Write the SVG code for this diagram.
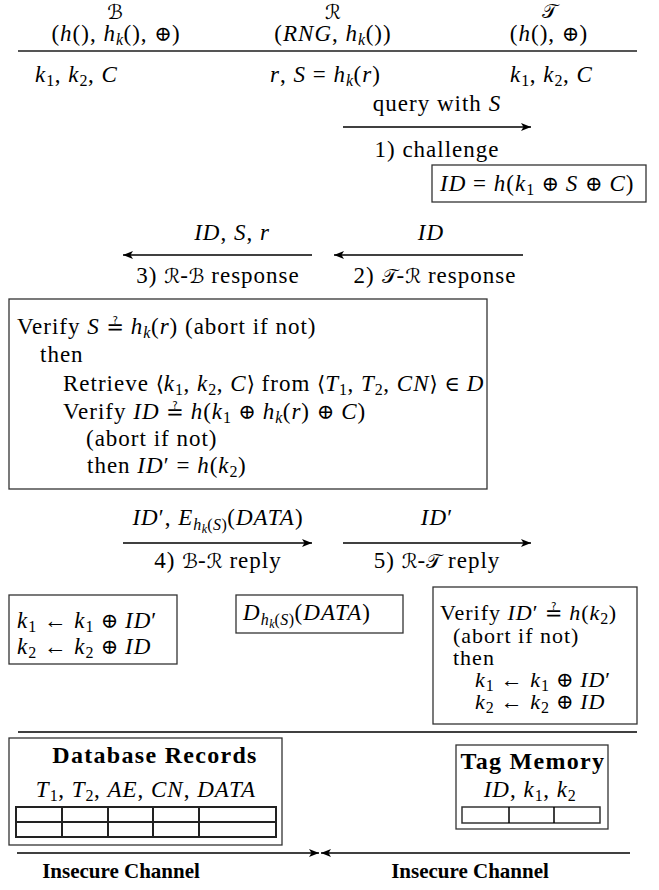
<svg xmlns="http://www.w3.org/2000/svg" width="659" height="890" viewBox="0 0 659 890">
<defs>
<style>
text{font-family:"Liberation Serif","DejaVu Serif",serif;font-size:23px;letter-spacing:1px;fill:#000}
.i{font-style:italic}
.s{font-size:16px;letter-spacing:0.5px}
.ss{font-size:12px;letter-spacing:0}
.m{font-family:"DejaVu Serif","DejaVu Sans",serif;font-size:21px;letter-spacing:0}
.cal{font-family:"DejaVu Sans","DejaVu Serif",serif;font-size:20px;font-style:normal;letter-spacing:0}
.b{font-weight:bold;font-size:21px;letter-spacing:0}
.h{font-weight:bold;font-size:24px;letter-spacing:1.3px}
.t{font-size:22px}
.box{fill:#fff;stroke:#333;stroke-width:1.3}
.ln{stroke:#000;stroke-width:1.3;fill:none}
.hl{stroke:#555;stroke-width:2;fill:none}
.tb{fill:none;stroke:#222;stroke-width:2}
</style>
<marker id="ah" viewBox="0 0 10 8" refX="10" refY="4" markerWidth="10" markerHeight="8" markerUnits="userSpaceOnUse" orient="auto"><path d="M0,0 L10,4 L0,8 L2.5,4 z" fill="#000"/></marker>
</defs>
<rect width="659" height="890" fill="#fff"/>

<g id="node-B">
<text x="115" y="19" text-anchor="middle" class="cal">ℬ</text>
<text x="116" y="41" text-anchor="middle">(<tspan class="i">h</tspan>(), <tspan class="i">h</tspan><tspan class="s i" dy="4">k</tspan><tspan dy="-4">(), </tspan><tspan class="m">⊕</tspan>)</text>
<text x="35" y="82"><tspan class="i">k</tspan><tspan class="s" dy="4">1</tspan><tspan dy="-4">, </tspan><tspan class="i">k</tspan><tspan class="s" dy="4">2</tspan><tspan dy="-4">, </tspan><tspan class="i">C</tspan></text>
</g>
<g id="node-R">
<text x="333" y="19" text-anchor="middle" class="cal">ℛ</text>
<text x="333" y="41" text-anchor="middle">(<tspan class="i">RNG</tspan>, <tspan class="i">h</tspan><tspan class="s i" dy="4">k</tspan><tspan dy="-4">())</tspan></text>
<text x="270" y="82"><tspan class="i">r</tspan>, <tspan class="i">S</tspan> = <tspan class="i">h</tspan><tspan class="s i" dy="4">k</tspan><tspan dy="-4">(</tspan><tspan class="i">r</tspan>)</text>
</g>
<g id="node-T">
<text x="549" y="18" text-anchor="middle" class="cal">𝒯</text>
<text x="549" y="41" text-anchor="middle">(<tspan class="i">h</tspan>(), <tspan class="m">⊕</tspan>)</text>
<text x="510" y="82"><tspan class="i">k</tspan><tspan class="s" dy="4">1</tspan><tspan dy="-4">, </tspan><tspan class="i">k</tspan><tspan class="s" dy="4">2</tspan><tspan dy="-4">, </tspan><tspan class="i">C</tspan></text>
</g>
<line class="hl" x1="18" y1="51" x2="637" y2="51"/>

<g id="connectors">
<line class="ln" x1="343" y1="127" x2="531" y2="127" marker-end="url(#ah)"/>
<line class="ln" x1="523" y1="255" x2="334" y2="255" marker-end="url(#ah)"/>
<line class="ln" x1="312" y1="255" x2="123" y2="255" marker-end="url(#ah)"/>
<line class="ln" x1="123" y1="543" x2="312" y2="543" marker-end="url(#ah)"/>
<line class="ln" x1="343" y1="543" x2="531" y2="543" marker-end="url(#ah)"/>
<line class="ln" x1="17" y1="853" x2="319" y2="853" marker-end="url(#ah)"/>
<line class="ln" x1="630" y1="853" x2="321" y2="853" marker-end="url(#ah)"/>
</g>

<g id="msg1">
<text x="437" y="111" text-anchor="middle">query with <tspan class="i">S</tspan></text>
<text x="437" y="157" text-anchor="middle">1) challenge</text>
</g>
<g id="box-tag-id">
<rect class="box" x="432" y="165" width="214" height="37"/>
<text x="440" y="191"><tspan class="i">ID</tspan> = <tspan class="i">h</tspan>(<tspan class="i">k</tspan><tspan class="s" dy="4">1</tspan><tspan dy="-4"> </tspan><tspan class="m">⊕</tspan> <tspan class="i">S</tspan> <tspan class="m">⊕</tspan> <tspan class="i">C</tspan>)</text>
</g>
<g id="msg2">
<text x="431" y="240" text-anchor="middle" class="i">ID</text>
<text x="435" y="283" text-anchor="middle">2) <tspan class="cal">𝒯</tspan>-<tspan class="cal">ℛ</tspan> response</text>
</g>
<g id="msg3">
<text x="232" y="240" text-anchor="middle"><tspan class="i">ID</tspan>, <tspan class="i">S</tspan>, <tspan class="i">r</tspan></text>
<text x="218" y="283" text-anchor="middle">3) <tspan class="cal">ℛ</tspan>-<tspan class="cal">ℬ</tspan> response</text>
</g>

<g id="box-backend-verify">
<rect class="box" x="9" y="299" width="478" height="190"/>
<text x="17" y="334">Verify <tspan class="i">S</tspan> <tspan class="m">≟</tspan> <tspan class="i">h</tspan><tspan class="s i" dy="4">k</tspan><tspan dy="-4">(</tspan><tspan class="i">r</tspan>) (abort if not)</text>
<text x="40" y="362">then</text>
<text x="63" y="391">Retrieve <tspan class="m">⟨</tspan><tspan class="i">k</tspan><tspan class="s" dy="4">1</tspan><tspan dy="-4">, </tspan><tspan class="i">k</tspan><tspan class="s" dy="4">2</tspan><tspan dy="-4">, </tspan><tspan class="i">C</tspan><tspan class="m">⟩</tspan> from <tspan class="m">⟨</tspan><tspan class="i">T</tspan><tspan class="s" dy="4">1</tspan><tspan dy="-4">, </tspan><tspan class="i">T</tspan><tspan class="s" dy="4">2</tspan><tspan dy="-4">, </tspan><tspan class="i">CN</tspan><tspan class="m">⟩</tspan> <tspan class="m">∈</tspan> <tspan class="i">D</tspan></text>
<text x="63" y="419">Verify <tspan class="i">ID</tspan> <tspan class="m">≟</tspan> <tspan class="i">h</tspan>(<tspan class="i">k</tspan><tspan class="s" dy="4">1</tspan><tspan dy="-4"> </tspan><tspan class="m">⊕</tspan> <tspan class="i">h</tspan><tspan class="s i" dy="4">k</tspan><tspan dy="-4">(</tspan><tspan class="i">r</tspan>) <tspan class="m">⊕</tspan> <tspan class="i">C</tspan>)</text>
<text x="86" y="446">(abort if not)</text>
<text x="87" y="473">then <tspan class="i">ID</tspan>′ = <tspan class="i">h</tspan>(<tspan class="i">k</tspan><tspan class="s" dy="4">2</tspan><tspan dy="-4">)</tspan></text>
</g>

<g id="msg4">
<text x="218" y="525" text-anchor="middle"><tspan class="i">ID</tspan>′, <tspan class="i">E</tspan><tspan class="s i" dy="5">h</tspan><tspan class="ss i" dy="3">k</tspan><tspan class="s" dy="-3">(</tspan><tspan class="s i">S</tspan><tspan class="s">)</tspan><tspan dy="-5">(</tspan><tspan class="i">DATA</tspan>)</text>
<text x="218" y="568" text-anchor="middle">4) <tspan class="cal">ℬ</tspan>-<tspan class="cal">ℛ</tspan> reply</text>
</g>
<g id="msg5">
<text x="437" y="525" text-anchor="middle"><tspan class="i">ID</tspan>′</text>
<text x="437" y="568" text-anchor="middle">5) <tspan class="cal">ℛ</tspan>-<tspan class="cal">𝒯</tspan> reply</text>
</g>

<g id="box-backend-update">
<rect class="box" x="9" y="595" width="168" height="69"/>
<text x="17" y="628"><tspan class="i">k</tspan><tspan class="s" dy="4">1</tspan><tspan dy="-4"> ← </tspan><tspan class="i">k</tspan><tspan class="s" dy="4">1</tspan><tspan dy="-4"> </tspan><tspan class="m">⊕</tspan> <tspan class="i">ID</tspan>′</text>
<text x="17" y="654"><tspan class="i">k</tspan><tspan class="s" dy="4">2</tspan><tspan dy="-4"> ← </tspan><tspan class="i">k</tspan><tspan class="s" dy="4">2</tspan><tspan dy="-4"> </tspan><tspan class="m">⊕</tspan> <tspan class="i">ID</tspan></text>
</g>
<g id="box-reader-decrypt">
<rect class="box" x="236" y="595" width="167" height="38"/>
<text x="243" y="620"><tspan class="i">D</tspan><tspan class="s i" dy="5">h</tspan><tspan class="ss i" dy="3">k</tspan><tspan class="s" dy="-3">(</tspan><tspan class="s i">S</tspan><tspan class="s">)</tspan><tspan dy="-5">(</tspan><tspan class="i">DATA</tspan>)</text>
</g>
<g id="box-tag-update">
<rect class="box" x="433" y="587" width="204" height="137"/>
<text x="440" y="620" class="t">Verify <tspan class="i">ID</tspan>′ <tspan class="m">≟</tspan> <tspan class="i">h</tspan>(<tspan class="i">k</tspan><tspan class="s" dy="4">2</tspan><tspan dy="-4">)</tspan></text>
<text x="453" y="643" class="t">(abort if not)</text>
<text x="453" y="665" class="t">then</text>
<text x="475" y="687" class="t"><tspan class="i">k</tspan><tspan class="s" dy="4">1</tspan><tspan dy="-4"> ← </tspan><tspan class="i">k</tspan><tspan class="s" dy="4">1</tspan><tspan dy="-4"> </tspan><tspan class="m">⊕</tspan> <tspan class="i">ID</tspan>′</text>
<text x="475" y="709" class="t"><tspan class="i">k</tspan><tspan class="s" dy="4">2</tspan><tspan dy="-4"> ← </tspan><tspan class="i">k</tspan><tspan class="s" dy="4">2</tspan><tspan dy="-4"> </tspan><tspan class="m">⊕</tspan> <tspan class="i">ID</tspan></text>
</g>

<line class="ln" x1="18" y1="732" x2="637" y2="732"/>

<g id="db-records">
<rect class="box" x="9" y="738" width="273" height="107"/>
<text x="155" y="763" text-anchor="middle" class="h">Database Records</text>
<text x="146" y="797" text-anchor="middle"><tspan class="i">T</tspan><tspan class="s" dy="4">1</tspan><tspan dy="-4">, </tspan><tspan class="i">T</tspan><tspan class="s" dy="4">2</tspan><tspan dy="-4">, </tspan><tspan class="i">AE</tspan>, <tspan class="i">CN</tspan>, <tspan class="i">DATA</tspan></text>
<rect class="tb" x="16" y="807" width="260" height="30"/>
<line class="tb" x1="16" y1="822" x2="276" y2="822"/>
<line class="tb" x1="62" y1="807" x2="62" y2="837"/>
<line class="tb" x1="108" y1="807" x2="108" y2="837"/>
<line class="tb" x1="153" y1="807" x2="153" y2="837"/>
<line class="tb" x1="199" y1="807" x2="199" y2="837"/>
</g>
<g id="tag-memory">
<rect class="box" x="456" y="745" width="152" height="84"/>
<text x="533" y="769" text-anchor="middle" class="h">Tag Memory</text>
<text x="530" y="797" text-anchor="middle"><tspan class="i">ID</tspan>, <tspan class="i">k</tspan><tspan class="s" dy="4">1</tspan><tspan dy="-4">, </tspan><tspan class="i">k</tspan><tspan class="s" dy="4">2</tspan></text>
<rect class="box" x="462" y="807" width="138" height="16" style="stroke-width:1.5"/>
<line class="ln" x1="509" y1="807" x2="509" y2="823" style="stroke-width:1.5"/>
<line class="ln" x1="554" y1="807" x2="554" y2="823" style="stroke-width:1.5"/>
</g>

<g id="labels-channel">
<text x="121" y="878" text-anchor="middle" class="b">Insecure Channel</text>
<text x="470" y="878" text-anchor="middle" class="b">Insecure Channel</text>
</g>
</svg>
